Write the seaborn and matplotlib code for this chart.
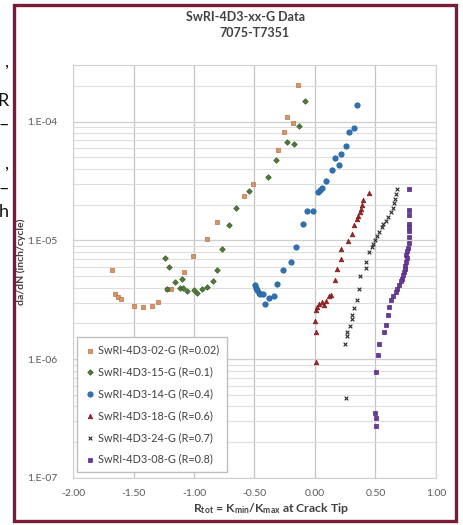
import numpy as np
import pandas as pd
import matplotlib
matplotlib.use("Agg")
import matplotlib.pyplot as plt
from matplotlib.patches import Rectangle
from matplotlib.ticker import LogLocator, FixedLocator, NullFormatter
import seaborn as sns

# ---- data: R_tot (x) vs da/dN (y) for each specimen ----
x_02 = [-1.680, -1.653, -1.631, -1.606, -1.493, -1.424, -1.350, -1.295, -1.221, -1.193,
        -1.083, -1.006, -0.895, -0.812, -0.584, -0.515, -0.303, -0.256, -0.229, -0.179, -0.138]
y_02 = [5.67e-6, 3.56e-6, 3.34e-6, 3.24e-6, 2.80e-6, 2.75e-6, 2.80e-6, 3.01e-6, 3.87e-6, 3.93e-6,
        5.42e-6, 7.34e-6, 1.03e-5, 1.44e-5, 2.36e-5, 2.96e-5, 5.78e-5, 8.24e-5, 1.09e-4, 9.68e-5, 2.05e-4]

x_15 = [-1.240, -1.204, -1.226, -1.157, -1.102, -1.116, -1.088, -1.054, -1.000, -0.973,
        -0.936, -0.895, -0.840, -0.812, -0.771, -0.708, -0.655, -0.543, -0.386, -0.322,
        -0.234, -0.174, -0.132, -0.083]
y_15 = [7.10e-6, 5.97e-6, 3.87e-6, 4.47e-6, 4.75e-6, 3.99e-6, 4.01e-6, 3.75e-6, 3.80e-6, 3.59e-6,
        3.87e-6, 4.05e-6, 4.52e-6, 5.67e-6, 8.45e-6, 1.36e-5, 1.88e-5, 2.60e-5, 3.45e-5, 4.77e-5,
        6.70e-5, 6.50e-5, 9.25e-5, 1.48e-4]

x_14 = [-0.496, -0.488, -0.482, -0.465, -0.455, -0.432, -0.411, -0.383, -0.339, -0.312,
        -0.262, -0.201, -0.160, -0.102, -0.064, -0.014, 0.022, 0.041, 0.058, 0.088,
        0.143, 0.165, 0.198, 0.215, 0.254, 0.283, 0.325, 0.345]
y_14 = [4.25e-6, 4.01e-6, 3.85e-6, 3.61e-6, 3.52e-6, 3.56e-6, 2.90e-6, 3.26e-6, 3.40e-6, 4.33e-6,
        5.67e-6, 6.54e-6, 8.79e-6, 1.38e-5, 1.76e-5, 1.76e-5, 2.55e-5, 2.66e-5, 2.79e-5, 3.19e-5,
        3.93e-5, 4.95e-5, 4.35e-5, 5.36e-5, 6.28e-5, 8.13e-5, 8.85e-5, 1.39e-4]

x_18 = [0.449, 0.399, 0.391, 0.380, 0.372, 0.358, 0.345, 0.325, 0.303, 0.275,
        0.215, 0.212, 0.184, 0.165, 0.130, 0.118, 0.091, 0.074, 0.055, 0.036,
        0.019, 0.008, 0.004, 0.006, 0.006]
y_18 = [2.49e-5, 2.17e-5, 2.00e-5, 1.85e-5, 1.73e-5, 1.62e-5, 1.52e-5, 1.36e-5, 1.14e-5, 9.86e-6,
        8.40e-6, 7.01e-6, 5.70e-6, 4.61e-6, 3.50e-6, 3.38e-6, 3.09e-6, 2.84e-6, 3.03e-6, 2.94e-6,
        2.75e-6, 2.62e-6, 2.10e-6, 1.70e-6, 9.48e-7]

x_24 = [0.674, 0.669, 0.661, 0.653, 0.642, 0.628, 0.606, 0.587, 0.564, 0.550,
        0.529, 0.515, 0.496, 0.482, 0.467, 0.449, 0.421, 0.419, 0.376, 0.366,
        0.347, 0.326, 0.306, 0.302, 0.289, 0.267, 0.262, 0.252, 0.256]
y_24 = [2.72e-5, 2.48e-5, 2.25e-5, 2.05e-5, 1.88e-5, 1.73e-5, 1.57e-5, 1.47e-5, 1.38e-5, 1.29e-5,
        1.17e-5, 1.10e-5, 1.00e-5, 9.25e-6, 8.73e-6, 7.93e-6, 6.53e-6, 5.87e-6, 4.98e-6, 3.93e-6,
        3.18e-6, 2.71e-6, 2.34e-6, 2.16e-6, 1.89e-6, 1.70e-6, 1.56e-6, 1.35e-6, 4.76e-7]

x_08 = [0.779, 0.779, 0.779, 0.779, 0.779, 0.779, 0.779, 0.779, 0.771, 0.764,
        0.752, 0.758, 0.750, 0.744, 0.740, 0.736, 0.725, 0.717, 0.707, 0.694,
        0.680, 0.667, 0.647, 0.628, 0.614, 0.601, 0.587, 0.573, 0.531, 0.523,
        0.504, 0.496, 0.504, 0.504]
y_08 = [2.72e-5, 1.79e-5, 1.65e-5, 1.38e-5, 1.29e-5, 1.19e-5, 1.06e-5, 9.49e-6, 8.57e-6, 8.09e-6,
        7.48e-6, 7.06e-6, 6.53e-6, 6.10e-6, 5.78e-6, 5.42e-6, 5.08e-6, 4.77e-6, 4.52e-6, 4.18e-6,
        3.93e-6, 3.68e-6, 3.38e-6, 3.13e-6, 2.75e-6, 2.34e-6, 1.96e-6, 1.70e-6, 1.35e-6, 1.09e-6,
        7.81e-7, 3.56e-7, 3.17e-7, 2.74e-7]

labels = ["SwRI-4D3-02-G (R=0.02)", "SwRI-4D3-15-G (R=0.1)", "SwRI-4D3-14-G (R=0.4)",
          "SwRI-4D3-18-G (R=0.6)", "SwRI-4D3-24-G (R=0.7)", "SwRI-4D3-08-G (R=0.8)"]
x_ticks = [-2.0, -1.5, -1.0, -0.5, 0.0, 0.5, 1.0]
x_tick_labels = ["-2.00", "-1.50", "-1.00", "-0.50", "0.00", "0.50", "1.00"]
y_ticks = [1e-7, 1e-6, 1e-5, 1e-4]
y_tick_labels = ["1.E-07", "1.E-06", "1.E-05", "1.E-04"]

series = [(x_02, y_02), (x_15, y_15), (x_14, y_14), (x_18, y_18), (x_24, y_24), (x_08, y_08)]
frames = []
for lab, (xs, ys) in zip(labels, series):
    frames.append(pd.DataFrame({"R": xs, "dadN": ys, "specimen": lab}))
df = pd.concat(frames, ignore_index=True)

# ---- styling ----
sns.set_style("white")
plt.rcParams["font.family"] = ["Lato", "DejaVu Sans"]
plt.rcParams["mathtext.default"] = "regular"

palette = {labels[0]: "#DB9466", labels[1]: "#4F7B3A", labels[2]: "#2E72B4",
           labels[3]: "#9E2426", labels[4]: "#262626", labels[5]: "#6B3A98"}
edges = {labels[0]: "#B8714A", labels[1]: "#3A5E2A", labels[2]: "#24609C",
         labels[3]: "#7E1A1C", labels[4]: "#262626", labels[5]: "#55297F"}
markers = {labels[0]: "s", labels[1]: "D", labels[2]: "o",
           labels[3]: "^", labels[4]: "x", labels[5]: "s"}
msize = {labels[0]: 9, labels[1]: 8, labels[2]: 15, labels[3]: 11, labels[4]: 7, labels[5]: 9}

fig = plt.figure(figsize=(4.64, 5.25), dpi=100)
W, H = 464, 525
ax = fig.add_axes([73 / W, 1 - 478 / H, 363 / W, 413 / H])

for lab in labels:
    sub = df[df["specimen"] == lab]
    kw = dict(edgecolor=edges[lab], linewidth=0.5)
    if markers[lab] == "x":
        kw = dict(linewidth=0.8)
    sns.scatterplot(data=sub, x="R", y="dadN", ax=ax, color=palette[lab],
                    marker=markers[lab], s=msize[lab], label=lab, zorder=3, **kw)

ax.set_yscale("log")
ax.set_xlim(-2.0, 1.0)
ax.set_ylim(1e-7, 3e-4)

ax.xaxis.set_major_locator(FixedLocator(x_ticks))
ax.set_xticklabels(x_tick_labels)
ax.yaxis.set_major_locator(FixedLocator(y_ticks))
ax.set_yticklabels(y_tick_labels)
ax.yaxis.set_minor_locator(LogLocator(base=10, subs=np.arange(2, 10)))
ax.yaxis.set_minor_formatter(NullFormatter())

ax.grid(True, which="major", axis="x", color="#C4C4C4", lw=0.9)
ax.grid(True, which="major", axis="y", color="#CFCFCF", lw=0.9)
ax.grid(True, which="minor", axis="y", color="#DDDDDD", lw=0.8)
ax.set_axisbelow(True)
for sp in ax.spines.values():
    sp.set_color("#D0D0D0")
    sp.set_linewidth(0.8)

ax.tick_params(axis="both", which="both", length=0, labelsize=7.5, labelcolor="#595959")
ax.tick_params(axis="y", pad=11)
ax.tick_params(axis="x", pad=8)

ax.set_xlabel("")
ax.set_ylabel("")
fig.text(21 / W, 1 - 262 / H, "da/dN (inch/cycle)", rotation=90, ha="center", va="center",
         fontsize=7.5, fontweight="bold", color="#404040")
fig.text(271 / W, 1 - 508 / H, r"R$_{tot}$ = K$_{min}$/K$_{max}$ at Crack Tip",
         ha="center", va="center", fontsize=8.8, fontweight="bold", color="#404040")

fig.text(246 / W, 1 - 17 / H, "SwRI-4D3-xx-G Data", ha="center", va="center",
         fontsize=9, fontweight="bold", color="#404040")
fig.text(254 / W, 1 - 33 / H, "7075-T7351", ha="center", va="center",
         fontsize=9, fontweight="bold", color="#404040")

leg = ax.legend(loc="lower left", bbox_to_anchor=(0.012, 0.014), fontsize=7.8,
                frameon=True, fancybox=False, edgecolor="#BFBFBF", framealpha=1,
                handletextpad=0.3, labelspacing=1.0, borderpad=0.7, handlelength=0.9,
                markerscale=1.0, borderaxespad=0)
for t in leg.get_texts():
    t.set_color("#404040")

# page border and neighbouring page text
fig.patches.append(Rectangle((14 / W, 1 - 521 / H), 442 / W, 516 / H, transform=fig.transFigure,
                             fill=False, edgecolor="#7A1C36", linewidth=2.4))
for ch, yy in [(",", 62), ("R", 101), ("\u2013", 125), (",", 164), ("\u2013", 189), ("h", 212)]:
    fig.text(9 / W, 1 - yy / H, ch, ha="right", va="center", fontsize=13, color="#111111")

fig.savefig("out.png", dpi=100)
